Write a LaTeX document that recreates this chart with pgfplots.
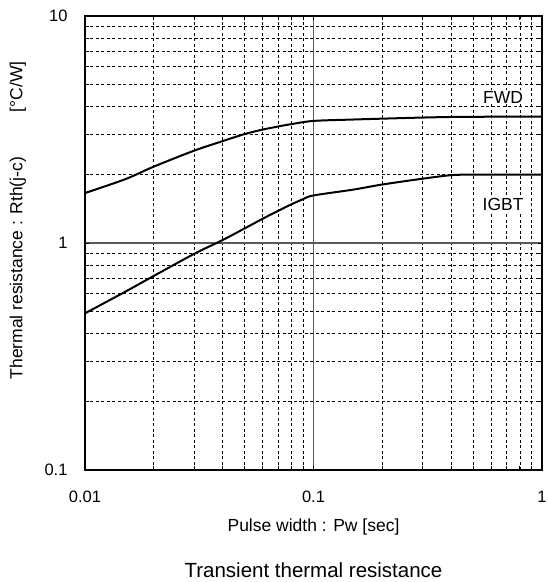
\documentclass[border=0pt]{standalone}
\usepackage{pgfplots}
\pgfplotsset{compat=1.18}
\usepackage{fontspec}
\setmainfont{Liberation Sans}
\begin{document}
\begin{tikzpicture}
\begin{axis}[
  scale only axis,
  width=457pt, height=454pt,
  xmode=log, ymode=log,
  xmin=0.01, xmax=1, ymin=0.1, ymax=10,
  xtick={0.01,0.1,1}, xticklabels={0.01,0.1,1},
  ytick={0.1,1,10}, yticklabels={0.1,1,10},
  /pgf/number format/assume math mode=true,
  grid=both,
  major grid style={draw=black!65, line width=1.1pt},
  minor grid style={draw=black, line width=0.7pt, dash pattern=on 3pt off 2.5pt},
  tick align=inside,
  major tick length=0pt, minor tick length=4pt,
  tick style={black, line width=0.8pt},
  axis line style={line width=1.6pt},
  ticklabel style={font=\fontsize{16.5}{19}\selectfont},
  xticklabel style={anchor=base, yshift=-32pt},
  yticklabel style={anchor=east, xshift=-14pt},
  xlabel={Pulse width : Pw [sec]},
  xlabel style={font=\fontsize{17.5}{20}\selectfont, at={(rel axis cs:0.5,0)}, anchor=base, yshift=-61pt},
  ylabel={Thermal resistance : Rth(j-c)\hspace{45pt}[°C/W]},
  ylabel style={font=\fontsize{17.5}{20}\selectfont, at={(rel axis cs:-0.147,0.55)}, anchor=center},
  clip=true,
]
\addplot[black, line width=2pt, smooth] coordinates {
 (0.01,1.66) (0.015,1.91) (0.02,2.17) (0.03,2.55) (0.04,2.81) (0.05,3.02)
 (0.06,3.16) (0.07,3.26) (0.08,3.34) (0.1,3.45) (0.15,3.50) (0.2,3.53)
 (0.3,3.57) (0.4,3.59) (0.6,3.60) (1,3.60)
};
\addplot[black, line width=2pt, smooth] coordinates {
 (0.01,0.49) (0.015,0.61) (0.02,0.716) (0.03,0.895) (0.04,1.03) (0.05,1.16)
 (0.06,1.28) (0.07,1.385) (0.08,1.48) (0.09,1.56) (0.1,1.62) (0.15,1.72)
 (0.2,1.81) (0.3,1.92) (0.4,1.99) (0.5,2.0) (1,2.0)
};
\node[font=\fontsize{17.5}{20}\selectfont, fill=white, inner sep=1pt] at (axis cs:0.676,4.38) {FWD};
\node[font=\fontsize{17.5}{20}\selectfont, fill=white, inner sep=1pt] at (axis cs:0.676,1.476) {IGBT};
\end{axis}
\node[font=\fontsize{20.5}{24}\selectfont, anchor=base] at ([shift={(228.5pt,-107pt)}]current axis.south west) {Transient thermal resistance};
\pgfresetboundingbox
\useasboundingbox ([shift={(-85pt,-112pt)}]current axis.south west) rectangle ++(548pt,582pt);
\end{tikzpicture}
\end{document}
